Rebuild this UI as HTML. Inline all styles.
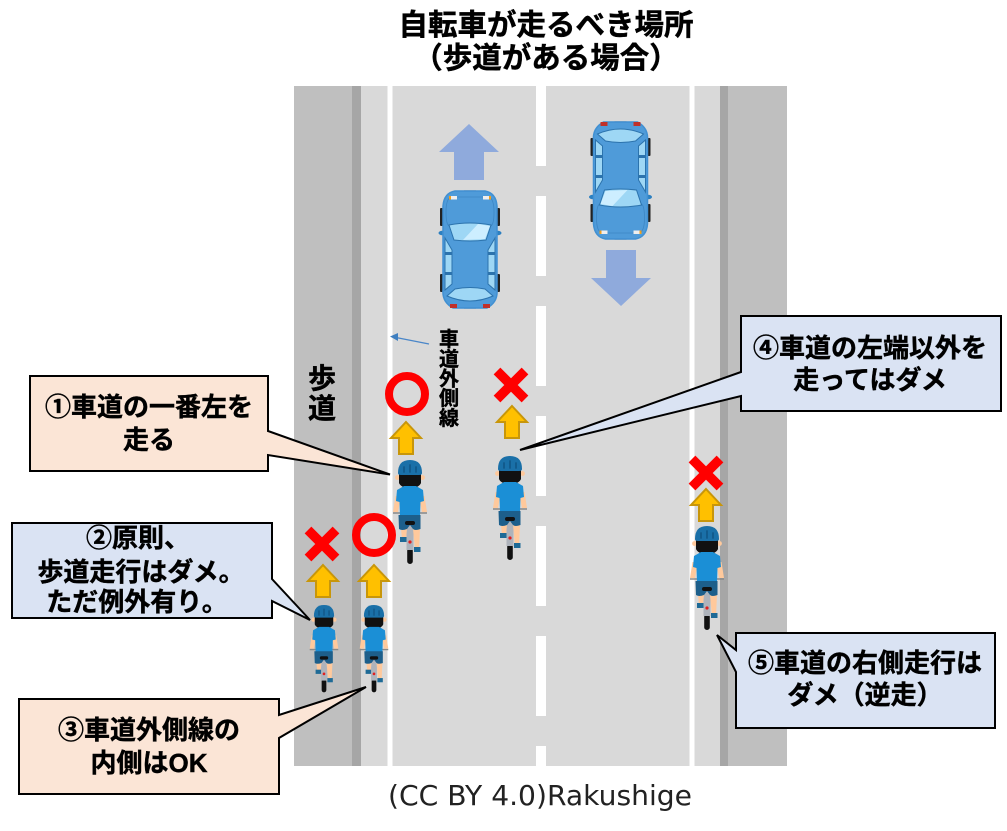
<!DOCTYPE html>
<html lang="ja"><head><meta charset="utf-8"><title>自転車が走るべき場所</title>
<style>
html,body{margin:0;padding:0;background:#fff}
svg{display:block}
text{font-family:"Liberation Sans","Noto Sans CJK JP",sans-serif;font-weight:700;fill:#000;stroke:#000;stroke-width:.45px;text-anchor:middle}
.c{font-size:26px}
</style></head><body>
<svg width="1007" height="831" viewBox="0 0 1007 831" xmlns="http://www.w3.org/2000/svg">
<defs>
<g id="car">
 <rect x="-30" y="18" width="3" height="18" rx="1" fill="#222"/><rect x="27" y="18" width="3" height="18" rx="1" fill="#222"/>
 <rect x="-30" y="84" width="3" height="18" rx="1" fill="#222"/><rect x="27" y="84" width="3" height="18" rx="1" fill="#222"/>
 <rect x="-6" y="0" width="12" height="3" fill="#bbb"/><rect x="-6" y="116" width="12" height="3" fill="#bbb"/>
 <ellipse cx="-27.500" cy="43" rx="4" ry="2.300" fill="#2b7fc0"/><ellipse cx="27.500" cy="43" rx="4" ry="2.300" fill="#2b7fc0"/>
 <path d="M-15 1H15Q26 3 27 16V100Q28 112 17 118H-17Q-28 112-27 100V16Q-26 3-15 1Z" fill="#4f9bd9" stroke="#4190d2" stroke-width="1.500"/>
 <path d="M-19 7H19Q24 9 24 22Q24 34 21 36Q0 30-21 36Q-24 34-24 22Q-24 9-19 7Z" fill="#4f9bd9" stroke="#3d86c4" stroke-width=".8"/>
 <path d="M-21 35Q0 31 21 35L16 50Q0 52-16 50Z" fill="#9ed7f5" stroke="#2c73ad" stroke-width="1"/>
 <path d="M-7 50L8 34L20 36L15 49Z" fill="#cdeeff"/>
 <path d="M-25 48L-18 60V94L-25 100Z" fill="#9ed7f5" stroke="#2c73ad" stroke-width="1"/>
 <path d="M25 48L18 60V94L25 100Z" fill="#9ed7f5" stroke="#2c73ad" stroke-width="1"/>
 <rect x="-25" y="62" width="7" height="3" fill="#2c73ad"/><rect x="18" y="62" width="7" height="3" fill="#2c73ad"/>
 <rect x="-25" y="82" width="7" height="3" fill="#2c73ad"/><rect x="18" y="82" width="7" height="3" fill="#2c73ad"/>
 <path d="M-15 99Q0 96 15 99L23 106Q0 116-23 106Z" fill="#9ed7f5" stroke="#2c73ad" stroke-width="1"/>
 <rect x="-19" y="6" width="6" height="3.500" fill="#eee"/><rect x="13" y="6" width="6" height="3.500" fill="#eee"/>
 <rect x="-21" y="6" width="2" height="3.500" fill="#f0a020"/><rect x="19" y="6" width="2" height="3.500" fill="#f0a020"/>
 <rect x="-20" y="114" width="7" height="4" fill="#c0302a"/><rect x="13" y="114" width="7" height="4" fill="#c0302a"/>
</g>
<g id="rider">
 <rect x="-2.800" y="88" width="5.600" height="16" rx="2.800" fill="#111"/>
 <rect x="-3.500" y="62" width="7" height="28" fill="#aeb3bb"/>
 <path d="M-9 69H-3L-4 79H-8Z" fill="#ffc99c"/>
 <path d="M3 69H10L9 90H5Z" fill="#ffc99c"/>
 <rect x="-10" y="77" width="6.500" height="5" fill="#1e6a96"/><rect x="4" y="87" width="6.500" height="5" fill="#1e6a96"/>
 <circle cx="0" cy="82" r="1.600" fill="#e02020"/>
 <path d="M-17 53H17" stroke="#888" stroke-width="1.600"/>
 <path d="M-14.500 36L-17 52H-12L-9 36Z" fill="#ffc99c"/><path d="M14.500 36L17 52H12L9 36Z" fill="#ffc99c"/>
 <circle cx="-12.500" cy="17.500" r="2.400" fill="#ffc99c"/><circle cx="12.500" cy="17.500" r="2.400" fill="#ffc99c"/>
 <path d="M-11 12H11V23Q9 28 0 28Q-9 28-11 23Z" fill="#111"/>
 <path d="M-6 26H6L13 30L14 41L10.500 42L10 56H-10L-10.500 42L-14 41L-13 30Z" fill="#1b8fd6"/>
 <path d="M-11.500 55H10.500L10.500 69Q5 71 3 69L0 65L-3 69Q-8 71-11 69Z" fill="#1d5f8b"/>
 <rect x="-5" y="61" width="10" height="4" rx="2" fill="#111"/>
 <path d="M-12 13Q-12 0 0 0Q12 0 12 13Q12 15 9 15H-9Q-12 15-12 13Z" fill="#1a70a8"/>
 <path d="M-6 7V12M0 5V12M6 7V12" stroke="#12598a" stroke-width="1.800" stroke-linecap="round"/>
</g>
<g id="ya"><path d="M0 0L15 16H7V32H-7V16H-15Z" fill="#ffc000" stroke="#c8960a" stroke-width="2"/></g>
<g id="xm"><path d="M-14-14L14 14M14-14L-14 14" stroke="#ff0000" stroke-width="9.500"/></g>
</defs>

<text x="546" y="35" style="font-size:29.500px">自転車が走るべき場所</text>
<text x="546" y="68" style="font-size:29.500px">（歩道がある場合）</text>

<rect x="294" y="86" width="493" height="680" fill="#d9d9d9"/>
<rect x="294" y="86" width="58" height="680" fill="#bfbfbf"/>
<rect x="352" y="86" width="9" height="680" fill="#a6a6a6"/>
<rect x="728" y="86" width="59" height="680" fill="#bfbfbf"/>
<rect x="720" y="86" width="8" height="680" fill="#a6a6a6"/>
<rect x="387.500" y="86" width="5" height="680" fill="#fff"/>
<rect x="689.500" y="86" width="5" height="680" fill="#fff"/>
<g fill="#fff">
<rect x="536" y="86" width="10" height="80"/><rect x="536" y="196" width="10" height="80"/>
<rect x="536" y="306" width="10" height="80"/><rect x="536" y="416" width="10" height="80"/>
<rect x="536" y="526" width="10" height="80"/><rect x="536" y="636" width="10" height="80"/>
<rect x="536" y="746" width="10" height="20"/>
</g>

<path d="M469 124L499 152H484V180H454V152H439Z" fill="#8faadc"/>
<path d="M606 250H636V278H651L621 306L591 278H606Z" fill="#8faadc"/>
<use href="#car" transform="translate(470,190)"/>
<use href="#car" transform="translate(620.500,240) rotate(180)"/>

<path d="M429 344L396 337.500" stroke="#4a86c8" stroke-width="1.300"/>
<path d="M390 336.500L398 333V341Z" fill="#3f7fc0"/>
<g style="font-size:20px"><text x="449" y="346">車</text><text x="449" y="366">道</text><text x="449" y="385.500">外</text><text x="449" y="405">側</text><text x="449" y="425">線</text></g>
<g style="font-size:28px"><text x="322" y="388">歩</text><text x="322" y="418">道</text></g>

<circle cx="407" cy="394" r="18" fill="none" stroke="#ff0000" stroke-width="8"/>
<circle cx="374" cy="535" r="18" fill="none" stroke="#ff0000" stroke-width="8"/>
<use href="#xm" transform="translate(511,385)"/>
<use href="#xm" transform="translate(322,544)"/>
<use href="#xm" transform="translate(706,473)"/>
<use href="#ya" transform="translate(406,422)"/>
<use href="#ya" transform="translate(512,406)"/>
<use href="#ya" transform="translate(706,489)"/>
<use href="#ya" transform="translate(323,565)"/>
<use href="#ya" transform="translate(374,565)"/>
<use href="#rider" transform="translate(410,460)"/>
<use href="#rider" transform="translate(510,456)"/>
<use href="#rider" transform="translate(707,526)"/>
<use href="#rider" transform="translate(324,605) scale(.84)"/>
<use href="#rider" transform="translate(374,605) scale(.84)"/>

<g stroke="#000" stroke-width="2">
<path fill="#fbe5d6" d="M30 376H268V431L390 474.500L268 455V471H30Z"/>
<path fill="#dae3f3" d="M12 523H272V579L310 620L272 601V618H12Z"/>
<path fill="#fbe5d6" d="M19 699H279V715L366 687L279 738V794H19Z"/>
<path fill="#dae3f3" d="M741 316H1001V411H741V396L520 450L741 372Z"/>
<path fill="#dae3f3" d="M736 633H995V728H736V672L717 635L736 650Z"/>
</g>
<text class="c" x="149" y="416">①車道の一番左を</text>
<text class="c" x="149" y="449">走る</text>
<text class="c" x="138" y="547">②原則、</text>
<text class="c" x="141" y="581">歩道走行はダメ。</text>
<text class="c" x="137" y="611">ただ例外有り。</text>
<text class="c" x="149" y="739">③車道外側線の</text>
<text class="c" x="149" y="772">内側はOK</text>
<text class="c" x="870" y="357">④車道の左端以外を</text>
<text class="c" x="870" y="389">走ってはダメ</text>
<text class="c" x="865" y="672">⑤車道の右側走行は</text>
<text class="c" x="865" y="704">ダメ（逆走）</text>
<text x="540" y="805" textLength="304" lengthAdjust="spacingAndGlyphs" style="font-family:'DejaVu Sans',sans-serif;font-weight:400;font-size:28px;fill:#222;stroke:none">(CC BY 4.0)Rakushige</text>
</svg>
</body></html>
